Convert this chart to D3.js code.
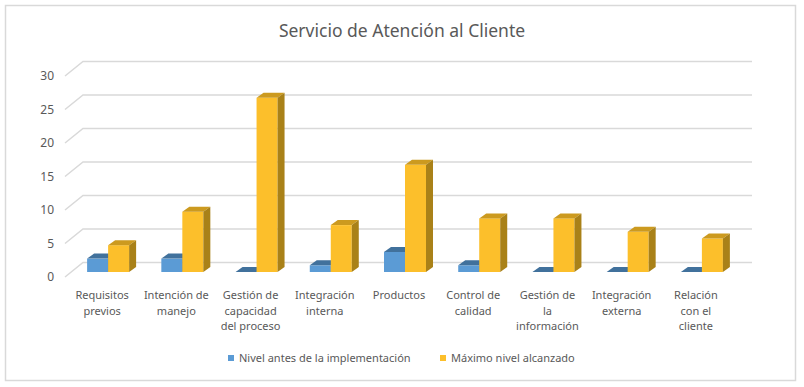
<!DOCTYPE html>
<html>
<head>
<meta charset="utf-8">
<script src="https://cdn.jsdelivr.net/npm/d3@7"></script>
<style>
  body { margin: 0; background: #fff; }
  text { font-family: "Noto Sans", "Open Sans", sans-serif; fill: #595959; }
</style>
</head>
<body>
<svg id="chart" width="804" height="387"></svg>
<script>
"use strict";

//Chart data
var categories = [
  ["Requisitos", "previos"],
  ["Intención de", "manejo"],
  ["Gestión de", "capacidad", "del proceso"],
  ["Integración", "interna"],
  ["Productos"],
  ["Control de", "calidad"],
  ["Gestión de", "la", "información"],
  ["Integración", "externa"],
  ["Relación", "con el", "cliente"]
];
var seriesNames = ["Nivel antes de la implementación", "Máximo nivel alcanzado"];
var antes = [2, 2, 0, 1, 3, 1, 0, 0, 0];
var maximo = [4, 9, 26, 7, 16, 8, 8, 6, 5];
var yTicks = [0, 5, 10, 15, 20, 25, 30];

//Colours: front, top, side for each series
var colors = [
  {front: "#5B9BD5", top: "#41719C", side: "#3A6690"},
  {front: "#FCBF2B", top: "#CC9A1F", side: "#A98118"}
];

var svg = d3.select("#chart");

//Outer border
svg.append("rect")
  .attr("x", 5.5).attr("y", 5.5)
  .attr("width", 790).attr("height", 375)
  .attr("fill", "#fff")
  .attr("stroke", "#d9d9d9")
  .attr("stroke-width", 1.5);

//Title
svg.append("text")
  .attr("x", 402)
  .attr("y", 37)
  .attr("text-anchor", "middle")
  .style("font-size", "17.5px")
  .text("Servicio de Atención al Cliente");

//Scales
var idx = d3.range(categories.length);
var x0 = d3.scaleBand().domain(idx).range([71, 739]);
var x1 = d3.scaleBand().domain([0, 1]).range([-21, 21]);
var y = d3.scaleLinear().domain([0, 30]).range([272, 71]);

//Depth of the 3D look
var wallDx = 18, wallDy = -14.5;
var barDx = 7, barDy = -5;

//Gridlines: left wall diagonal + back wall
var grid = svg.append("g").attr("class", "grid");
yTicks.forEach(function(t) {
  var front = y(t) + 5;
  var back = front + wallDy;
  grid.append("path")
    .attr("d", "M65," + front + "L" + (65 + wallDx) + "," + back + "L752," + back)
    .attr("fill", "none")
    .attr("stroke", "#d9d9d9")
    .attr("stroke-width", 1.5);
});

//Y axis labels
svg.append("g")
  .selectAll("text")
  .data(yTicks)
  .enter().append("text")
  .attr("x", 54)
  .attr("y", function(d) { return y(d) + 5; })
  .attr("dy", "0.35em")
  .attr("text-anchor", "end")
  .style("font-size", "12px")
  .text(function(d) { return d; });

//Bars
var bars = [];
idx.forEach(function(i) {
  [antes, maximo].forEach(function(vals, s) {
    bars.push({cat: i, s: s, v: vals[i]});
  });
});

var bar = svg.append("g").selectAll("g")
  .data(bars)
  .enter().append("g");

bar.each(function(d) {
  var g = d3.select(this);
  var xl = x0(d.cat) + x0.bandwidth() / 2 + x1(d.s);
  var xr = xl + x1.bandwidth();
  var yt = y(d.v), yb = y(0);
  var c = colors[d.s];
  g.append("rect")
    .attr("x", xl).attr("y", yt)
    .attr("width", xr - xl).attr("height", yb - yt)
    .attr("fill", c.front);
  g.append("path")
    .attr("d", "M" + xl + "," + yt + "L" + (xl + barDx) + "," + (yt + barDy) +
      "L" + (xr + barDx) + "," + (yt + barDy) + "L" + xr + "," + yt + "Z")
    .attr("fill", c.top);
  g.append("path")
    .attr("d", "M" + xr + "," + yt + "L" + (xr + barDx) + "," + (yt + barDy) +
      "L" + (xr + barDx) + "," + (yb + barDy) + "L" + xr + "," + yb + "Z")
    .attr("fill", c.side);
});

//Category labels
var labels = svg.append("g")
  .selectAll("text")
  .data(categories)
  .enter().append("text")
  .attr("text-anchor", "middle")
  .style("font-size", "11px");

labels.each(function(lines, i) {
  var t = d3.select(this);
  var cx = x0(i) + x0.bandwidth() / 2 - 6;
  lines.forEach(function(line, j) {
    t.append("tspan")
      .attr("x", cx)
      .attr("y", 299 + j * 15.5)
      .text(line);
  });
});

//Legend
var legendX = [228, 440];
var legend = svg.append("g")
  .selectAll("g")
  .data(seriesNames)
  .enter().append("g")
  .attr("transform", function(d, i) { return "translate(" + legendX[i] + ",355)"; });

legend.append("rect")
  .attr("width", 6).attr("height", 6)
  .attr("fill", function(d, i) { return colors[i].front; });

legend.append("text")
  .attr("x", 11)
  .attr("y", 3)
  .attr("dy", "0.35em")
  .style("font-size", "11px")
  .text(function(d) { return d; });
</script>
</body>
</html>
